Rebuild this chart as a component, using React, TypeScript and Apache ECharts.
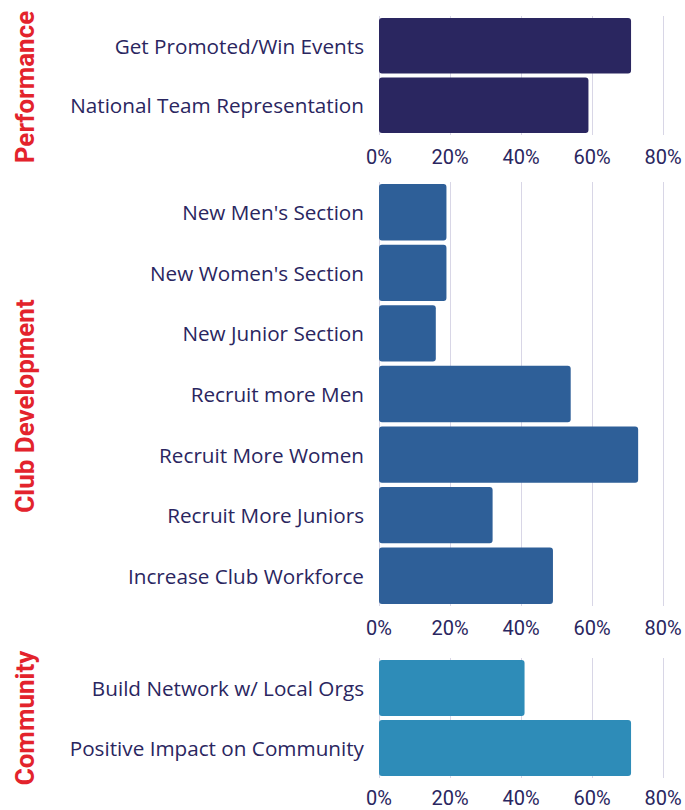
import React, { useEffect, useRef } from "react";
import * as echarts from "echarts";

const perfCategories = ["Get Promoted/Win Events", "National Team Representation"];
const perfValues = [71, 59];

const clubCategories = [
  "New Men's Section",
  "New Women's Section",
  "New Junior Section",
  "Recruit more Men",
  "Recruit More Women",
  "Recruit More Juniors",
  "Increase Club Workforce",
];
const clubValues = [19, 19, 16, 54, 73, 32, 49];

const commCategories = ["Build Network w/ Local Orgs", "Positive Impact on Community"];
const commValues = [41, 71];

const groupNames = ["Performance", "Club Development", "Community"];
const groupColors = ["#2a2660", "#2e5f98", "#2e8cb8"];
const xTicks = [0, 20, 40, 60, 80];

const TEXT = "#2a2660";
const FONT = "Roboto";

export default function App() {
  const ref = useRef<HTMLDivElement>(null);
  useEffect(() => {
    if (!ref.current) return;
    const chart = echarts.init(ref.current, undefined, { renderer: "svg" });
    const grids = [
      { left: 379, right: 22, top: 16, height: 119 },
      { left: 379, right: 22, top: 182, height: 424 },
      { left: 379, right: 22, top: 658, height: 120 },
    ];
    const cats = [perfCategories, clubCategories, commCategories];
    const vals = [perfValues, clubValues, commValues];
    const centers = [87, 406, 718];
    chart.setOption({
      animation: false,
      grid: grids,
      xAxis: grids.map((_, i) => ({
        type: "value",
        gridIndex: i,
        min: xTicks[0],
        max: xTicks[xTicks.length - 1],
        interval: 20,
        axisLine: { show: false },
        axisTick: { show: false },
        splitLine: { show: true, lineStyle: { color: "#d8d6e6", width: 1 } },
        axisLabel: {
          color: TEXT,
          fontFamily: FONT,
          fontSize: 20,
          margin: i === 2 ? 10 : 12,
          formatter: (v: number) => v + "%",
        },
      })),
      yAxis: grids.map((_, i) => ({
        type: "category",
        gridIndex: i,
        inverse: true,
        data: cats[i],
        axisLine: { show: false },
        axisTick: { show: false },
        axisLabel: {
          color: TEXT,
          fontFamily: "Open Sans",
          fontSize: 20.7,
          margin: 15,
        },
      })),
      series: grids.map((_, i) => ({
        type: "bar",
        xAxisIndex: i,
        yAxisIndex: i,
        data: vals[i],
        barCategoryGap: "7%",
        itemStyle: { color: groupColors[i], borderRadius: 3 },
      })),
      graphic: groupNames.map((name, i) => ({
        type: "text",
        x: 25,
        y: centers[i],
        rotation: Math.PI / 2,
        style: {
          text: name,
          fill: "#e3232c",
          font: `bold 26px ${FONT}`,
          align: "center",
          verticalAlign: "middle",
        },
      })),
    });
    return () => chart.dispose();
  }, []);
  return (
    <div
      ref={ref}
      style={{ width: 685, height: 810, position: "absolute", left: 0, top: 0 }}
    />
  );
}
